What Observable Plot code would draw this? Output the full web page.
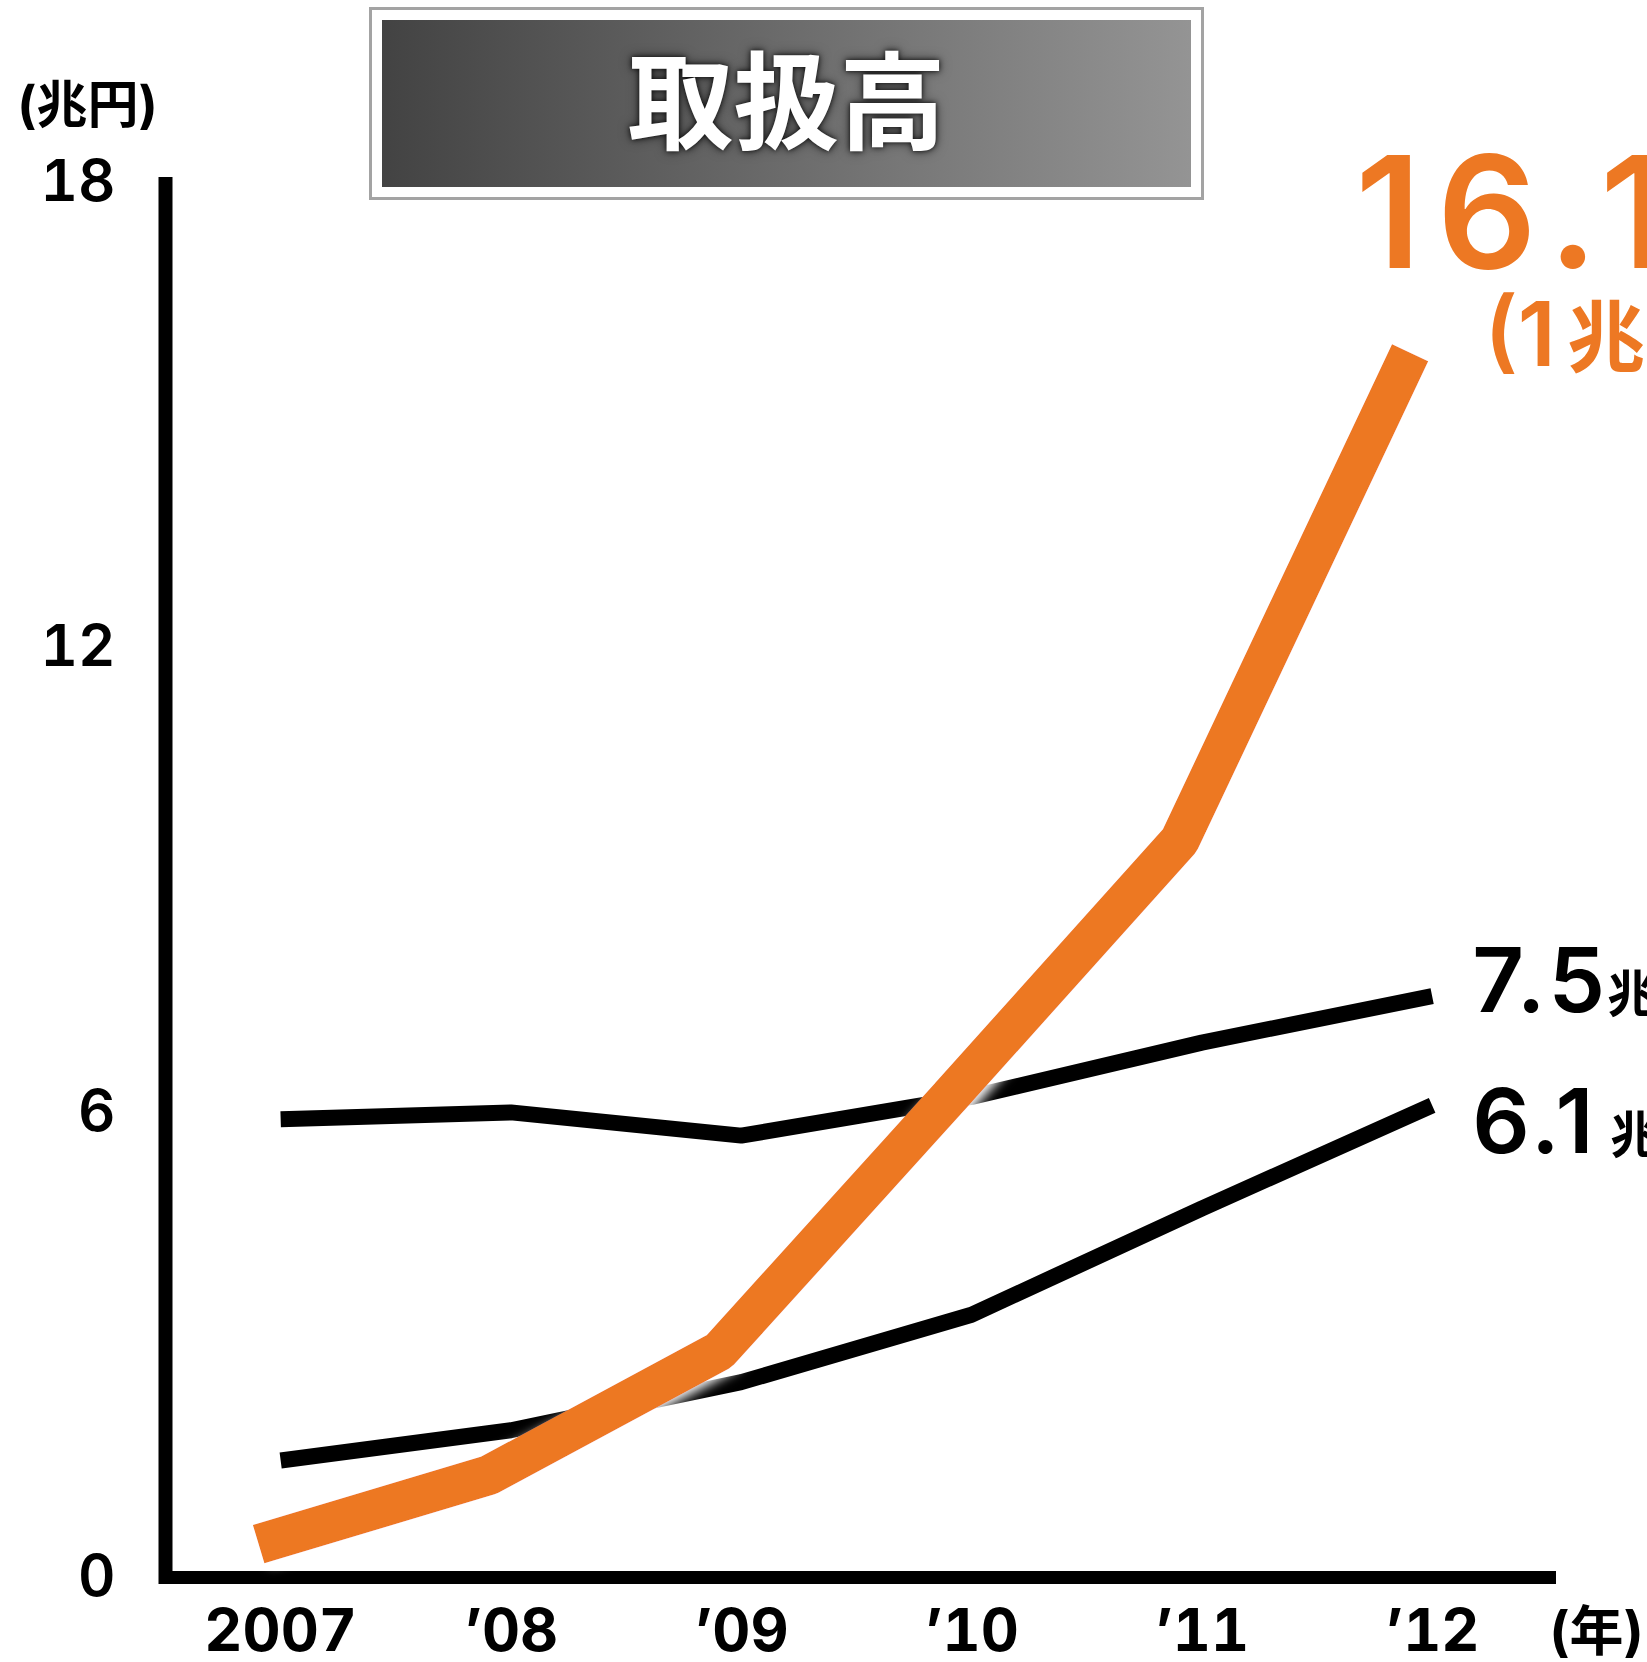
<!DOCTYPE html>
<html><head><meta charset="utf-8">
<script src="https://cdn.jsdelivr.net/npm/d3@7"></script>
<script src="https://cdn.jsdelivr.net/npm/@observablehq/plot@0.6"></script>
<style>
html,body{margin:0;padding:0;background:#fff;overflow:hidden;}
#wrap{position:relative;width:1647px;height:1662px;}
#chart{position:absolute;left:0;top:0;}
#titleOuter{position:absolute;left:369px;top:7px;width:835px;height:193px;border:3px solid #a3a3a3;box-sizing:border-box;background:#fff;}
#titleInner{position:absolute;left:382px;top:20px;width:809px;height:167px;background:linear-gradient(to right,#434343,#949494);display:flex;align-items:center;justify-content:center;box-sizing:border-box;padding-bottom:17px;color:#fff;font-family:"Noto Sans CJK JP",sans-serif;font-weight:700;font-size:106px;line-height:1;text-shadow:0 0 5px rgba(0,0,0,.85),0 0 12px rgba(0,0,0,.55);}
</style></head>
<body><div id="wrap"><div id="chart"></div><div id="titleOuter"></div><div id="titleInner"><span>取扱高</span></div></div>
<script>
// ---- data ----
const years = [2007, 2008, 2009, 2010, 2011, 2012];
const yearLabels = ["2007", "’08", "’09", "’10", "’11", "’12"];
const seriesUpper = [5.91, 6.0, 5.7, 6.2, 6.9, 7.5];
const seriesLower = [1.51, 1.9, 2.52, 3.39, 4.76, 6.09];
const seriesOrange = [0.43, 1.32, 2.92, 6.2, 9.51, 15.8];
const yTicks = [0, 6, 12, 18];
const orangeValueLabel = "16.1";
const orangeSubLabelA = "(1";
const orangeSubLabelB = "兆円";
const upperValueLabel = "7.5";
const lowerValueLabel = "6.1";
const unitLabel = "兆円";
const yUnit = "(兆円)";
const xUnit = "(年)";

const xDomain = [2006.5, 2012.54];
const yDomain = [0, 17.97];
const ORANGE = "#ED7823";

const toRows = (vals) => years.map((year, i) => ({year, value: vals[i]}));
const upper = toRows(seriesUpper), lower = toRows(seriesLower), orange = toRows(seriesOrange);
const last = (rows) => rows[rows.length - 1];

const chart = Plot.plot({
  width: 1647, height: 1662,
  marginLeft: 165, marginRight: 91, marginTop: 184, marginBottom: 85,
  style: {fontFamily: "Inter, 'Noto Sans CJK JP', sans-serif", background: "transparent", overflow: "hidden"},
  x: {domain: xDomain},
  y: {domain: yDomain},
  marks: [
    Plot.axisY({ticks: yTicks, tickSize: 0, tickPadding: 50, fontSize: 58, fontWeight: 600, label: null, anchor: "left"}),
    Plot.axisX({ticks: years, tickFormat: d => yearLabels[years.indexOf(d)], tickSize: 0, tickPadding: 32, fontSize: 59, fontWeight: 700, label: null}),
    Plot.ruleX([xDomain[0]], {stroke: "#000", strokeWidth: 14, strokeLinecap: "square"}),
    Plot.ruleY([0], {stroke: "#000", strokeWidth: 13}),
    Plot.line(upper, {x: "year", y: "value", stroke: "#000", strokeWidth: 16, strokeLinejoin: "miter", strokeLinecap: "butt"}),
    Plot.line(lower, {x: "year", y: "value", stroke: "#000", strokeWidth: 16, strokeLinejoin: "miter", strokeLinecap: "butt"}),
    Plot.line(orange, {x: "year", y: "value", dx: -22, stroke: ORANGE, strokeWidth: 40, strokeLinejoin: "miter", strokeLinecap: "butt", ariaDescription: "orange"}),
    Plot.text([last(orange)], {x: "year", y: "value", text: () => orangeValueLabel, fill: ORANGE, fontSize: 156, fontWeight: 600, textAnchor: "start", lineAnchor: "bottom", dx: -77, dy: -85, ariaDescription: "big"}),
    Plot.text([last(orange)], {x: "year", y: "value", text: () => orangeSubLabelA, fill: ORANGE, fontSize: 90, fontWeight: 600, textAnchor: "start", lineAnchor: "bottom", dx: 52, dy: 13}),
    Plot.text([last(orange)], {x: "year", y: "value", text: () => orangeSubLabelB, fill: ORANGE, fontSize: 78, fontWeight: 600, textAnchor: "start", lineAnchor: "bottom", dx: 135, dy: 13}),
    Plot.text([last(upper)], {x: "year", y: "value", text: () => upperValueLabel, fill: "#000", fontSize: 90, fontWeight: 600, textAnchor: "start", lineAnchor: "bottom", dx: 40, dy: 16, ariaDescription: "mid"}),
    Plot.text([last(upper)], {x: "year", y: "value", text: () => unitLabel, fill: "#000", fontSize: 50, fontWeight: 600, textAnchor: "start", lineAnchor: "bottom", dx: 175, dy: 16}),
    Plot.text([last(lower)], {x: "year", y: "value", text: () => lowerValueLabel, fill: "#000", fontSize: 90, fontWeight: 600, textAnchor: "start", lineAnchor: "bottom", dx: 40, dy: 48, ariaDescription: "mid"}),
    Plot.text([last(lower)], {x: "year", y: "value", text: () => unitLabel, fill: "#000", fontSize: 50, fontWeight: 600, textAnchor: "start", lineAnchor: "bottom", dx: 178, dy: 48}),
    Plot.text([yUnit], {frameAnchor: "top-left", text: d => d, fontSize: 51, fontWeight: 700, textAnchor: "middle", lineAnchor: "bottom", dx: -78, dy: -62}),
    Plot.text([xUnit], {frameAnchor: "bottom-right", text: d => d, fontSize: 54, fontWeight: 700, textAnchor: "middle", lineAnchor: "bottom", dx: 40, dy: 73})
  ]
});
document.getElementById("chart").appendChild(chart);

const svg = d3.select(chart);
svg.selectAll('[aria-description="big"] text').attr("letter-spacing", 16);
svg.selectAll('[aria-description="mid"] text').attr("letter-spacing", 4);
// soft white glow under the orange line (visible where it crosses black lines)
const defs = svg.insert("defs", ":first-child");
const f = defs.append("filter").attr("id", "glow").attr("x", "-10%").attr("y", "-10%").attr("width", "120%").attr("height", "120%");
f.append("feDropShadow").attr("dx", 6).attr("dy", 2).attr("stdDeviation", 6).attr("flood-color", "#fff").attr("flood-opacity", 1);
svg.selectAll('[aria-description="orange"]').attr("filter", "url(#glow)");
</script>
</body></html>
